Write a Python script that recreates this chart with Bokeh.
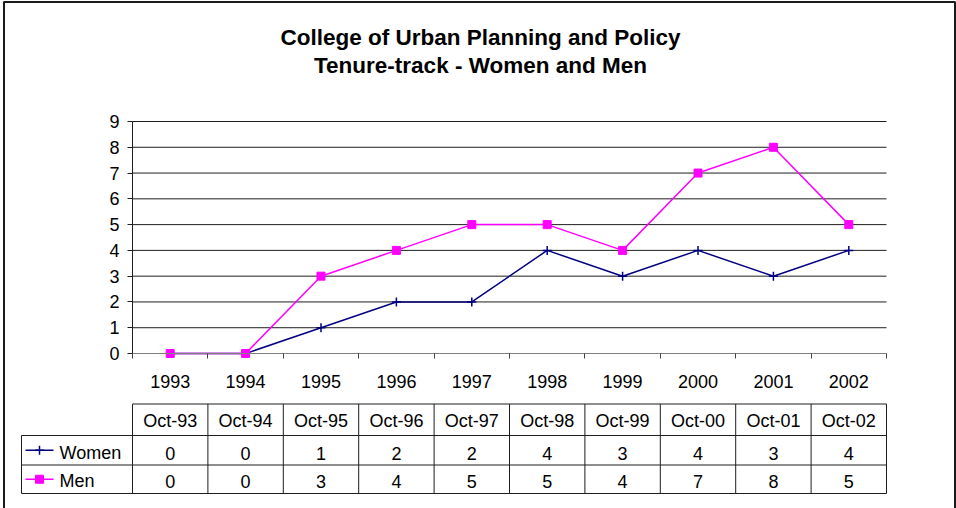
from bokeh.plotting import figure
from bokeh.models import Range1d, LinearAxis, FixedTicker
from bokeh.core.properties import value
from bokeh.embed import file_html
from bokeh.resources import INLINE

# ---------------- data ----------------
years = ["1993", "1994", "1995", "1996", "1997", "1998", "1999", "2000", "2001", "2002"]
months = ["Oct-93", "Oct-94", "Oct-95", "Oct-96", "Oct-97", "Oct-98", "Oct-99", "Oct-00", "Oct-01", "Oct-02"]
women = [0, 0, 1, 2, 2, 4, 3, 4, 3, 4]
men = [0, 0, 3, 4, 5, 5, 4, 7, 8, 5]
y_ticks = [0, 1, 2, 3, 4, 5, 6, 7, 8, 9]
series_names = ["Women", "Men"]
title_lines = ["College of Urban Planning and Policy", "Tenure-track - Women and Men"]

# ---------------- layout constants (page pixels) ----------------
W, H = 956, 508
OFF = 0
PLOT_L, PLOT_R = 132, 886
ZERO_Y, TOP_Y = 353, 121
LEG_L = 21
TBL_TOP, ROW1, ROW2, TBL_BOT = 403.5, 435, 464.5, 493
FONT = "Liberation Sans"
FS = "18px"
WOMEN_C = "#000080"
MEN_C = "#FF00FF"
LINE_C = "#1e1e1e"

n = len(years)
cat_w = (PLOT_R - PLOT_L) / n
unit = (ZERO_Y - TOP_Y) / y_ticks[-1]
xs = list(range(n))

x_range = Range1d(-0.5 - (PLOT_L - OFF) / cat_w, n - 0.5 + (OFF + W - PLOT_R) / cat_w)
y_range = Range1d(-(OFF + H - ZERO_Y) / unit, (ZERO_Y - OFF) / unit)

p = figure(width=W, height=H, x_range=x_range, y_range=y_range, title=None,
           output_backend="svg", toolbar_location=None, min_border=0,
           x_axis_type=None, y_axis_type=None, outline_line_color=None,
           background_fill_color="white", border_fill_color="white")
p.extra_x_ranges = {"px": Range1d(OFF, OFF + W)}
p.extra_y_ranges = {"px": Range1d(OFF + H, OFF)}

# gridlines (1..9) across plot area
gvals = [v for v in y_ticks if v > 0]
p.segment(x0=-0.5, x1=n - 0.5, y0=gvals, y1=gvals, line_color=LINE_C, line_width=1)

# y axis
yax = LinearAxis(fixed_location=-0.5, bounds=(y_ticks[0], y_ticks[-1]),
                 ticker=FixedTicker(ticks=y_ticks, minor_ticks=[]),
                 major_tick_in=0, major_tick_out=5, minor_tick_in=0, minor_tick_out=0,
                 axis_line_color=LINE_C, major_tick_line_color=LINE_C,
                 major_label_text_font=FONT, major_label_text_font_size=FS,
                 major_label_text_color="#000000", major_label_standoff=8)
p.add_layout(yax, "left")

# x axis (category axis with boundary ticks)
xax = LinearAxis(fixed_location=0, bounds=(-0.5, n - 0.5),
                 ticker=FixedTicker(ticks=xs, minor_ticks=[i - 0.5 for i in range(n + 1)]),
                 major_tick_in=0, major_tick_out=0, major_tick_line_color=None,
                 minor_tick_in=0, minor_tick_out=5, minor_tick_line_color="#404040",
                 axis_line_color="#808080",
                 major_label_overrides={i: yv for i, yv in enumerate(years)},
                 major_label_text_font=FONT, major_label_text_font_size=FS,
                 major_label_text_color="#000000", major_label_standoff=16)
p.add_layout(xax, "below")

# series
p.line(xs, women, line_color=WOMEN_C, line_width=1.5)
p.scatter(xs, women, marker="cross", size=9, line_color=WOMEN_C, line_width=1.5)
p.line(xs, men, line_color=MEN_C, line_width=1.5)
p.scatter(xs, men, marker="square", size=8, fill_color=MEN_C, line_color=MEN_C)

# ---------------- data table ----------------
leg_x = -0.5 - (PLOT_L - LEG_L) / cat_w
bounds_x = [i - 0.5 for i in range(n + 1)]
# horizontal lines
p.segment(x0=[-0.5, leg_x, leg_x, leg_x], x1=[n - 0.5] * 4,
          y0=[TBL_TOP, ROW1, ROW2, TBL_BOT], y1=[TBL_TOP, ROW1, ROW2, TBL_BOT],
          y_range_name="px", line_color=LINE_C, line_width=1)
# vertical lines
p.segment(x0=bounds_x + [leg_x], x1=bounds_x + [leg_x],
          y0=[TBL_TOP] * (n + 1) + [ROW1], y1=[TBL_BOT] * (n + 2),
          y_range_name="px", line_color=LINE_C, line_width=1)

txt = dict(text_font=value(FONT), text_font_size=FS, text_color="#000000",
           text_align="center", text_baseline="middle", y_range_name="px")
p.text(x=xs, y=[(TBL_TOP + ROW1) / 2 + 1] * n, text=months, **txt)
p.text(x=xs, y=[(ROW1 + ROW2) / 2 + 3] * n, text=[str(v) for v in women], **txt)
p.text(x=xs, y=[(ROW2 + TBL_BOT) / 2 + 2] * n, text=[str(v) for v in men], **txt)

# legend keys inside table
ly = [(ROW1 + ROW2) / 2, (ROW2 + TBL_BOT) / 2]
p.segment(x0=[25, 25], x1=[53, 53], y0=ly, y1=ly, line_color=[WOMEN_C, MEN_C], line_width=1.5,
          x_range_name="px", y_range_name="px")
p.scatter(x=[39], y=[ly[0]], marker="cross", size=9, line_color=WOMEN_C, line_width=1.5,
          x_range_name="px", y_range_name="px")
p.scatter(x=[39], y=[ly[1]], marker="square", size=8, fill_color=MEN_C, line_color=MEN_C,
          x_range_name="px", y_range_name="px")
p.text(x=[59, 59], y=[ly[0] + 3, ly[1] + 2], text=series_names, text_font=value(FONT),
       text_font_size=FS, text_color="#000000", text_align="left", text_baseline="middle",
       x_range_name="px", y_range_name="px")

# ---------------- title ----------------
p.text(x=[480, 480], y=[37, 65], text=title_lines, text_font=value(FONT), text_font_size="22.5px",
       text_font_style="bold", text_color="#000000", text_align="center", text_baseline="middle",
       x_range_name="px", y_range_name="px")

# outer chart border (left, top, right edges visible)
p.multi_line(xs=[[3.5, 3.5, 954.5, 954.5]], ys=[[H + 5, 1.5, 1.5, H + 5]], line_color="#1a1a1a",
             line_width=2, x_range_name="px", y_range_name="px")

open("out.html", "w").write(file_html(p, INLINE, "chart"))
